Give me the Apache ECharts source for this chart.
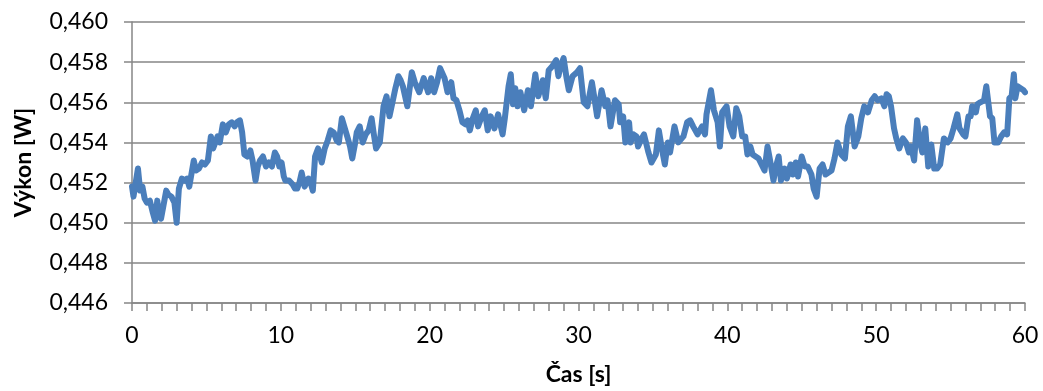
<!DOCTYPE html>
<html>
<head>
<meta charset="utf-8">
<script src="https://cdn.jsdelivr.net/npm/echarts@6/dist/echarts.min.js"></script>
<style>
  html, body { margin: 0; padding: 0; background: #fff; }
  #chart { width: 1043px; height: 391px; }
</style>
</head>
<body>
<div id="chart"></div>
<script>
// Measured power over time: time stamps [s] and power [W]
var times = [
  0.0, 0.1, 0.25, 0.4, 0.55, 0.7, 0.85, 1.0, 1.2, 1.4, 1.55, 1.7, 1.8, 1.95, 2.1, 2.3, 2.45, 2.65, 2.85, 3.0,
  3.15, 3.35, 3.55, 3.7, 3.85, 4.15, 4.3, 4.5, 4.7, 4.9, 5.1, 5.3, 5.45, 5.6, 5.75, 5.9, 6.1, 6.3, 6.5, 6.7,
  6.9, 7.05, 7.25, 7.4, 7.55, 7.75, 7.95, 8.1, 8.3, 8.45, 8.6, 8.8, 9.0, 9.2, 9.4, 9.6, 9.75, 9.9, 10.05, 10.2,
  10.3, 10.55, 10.8, 10.95, 11.1, 11.25, 11.4, 11.6, 11.85, 12.0, 12.15, 12.3, 12.5, 12.75, 12.95, 13.15, 13.35, 13.55, 13.75, 13.9,
  14.1, 14.3, 14.5, 14.65, 14.8, 15.0, 15.1, 15.3, 15.5, 15.7, 15.9, 16.1, 16.25, 16.4, 16.65, 16.9, 17.1, 17.3, 17.5, 17.7,
  17.9, 18.05, 18.2, 18.5, 18.8, 19.0, 19.3, 19.6, 19.9, 20.1, 20.3, 20.5, 20.7, 21.0, 21.2, 21.45, 21.6, 21.8, 22.0, 22.2,
  22.4, 22.55, 22.7, 22.9, 23.1, 23.25, 23.5, 23.7, 23.9, 24.1, 24.35, 24.6, 24.9, 25.05, 25.3, 25.45, 25.6, 25.75, 25.9, 26.1,
  26.35, 26.6, 26.8, 27.1, 27.3, 27.6, 27.8, 28.0, 28.25, 28.5, 28.65, 28.8, 29.0, 29.2, 29.35, 29.6, 29.9, 30.1, 30.35, 30.6,
  30.9, 31.05, 31.25, 31.55, 31.8, 31.95, 32.15, 32.45, 32.7, 32.8, 33.0, 33.15, 33.4, 33.5, 33.7, 33.9, 34.0, 34.25, 34.4, 34.7,
  34.9, 35.2, 35.4, 35.6, 35.8, 36.0, 36.15, 36.45, 36.7, 37.05, 37.3, 37.5, 37.7, 38.0, 38.3, 38.5, 38.6, 38.9, 39.1, 39.35,
  39.5, 39.65, 39.95, 40.15, 40.4, 40.6, 40.8, 41.0, 41.2, 41.35, 41.55, 41.7, 42.1, 42.3, 42.5, 42.7, 42.85, 43.1, 43.3, 43.45,
  43.6, 43.85, 44.0, 44.25, 44.4, 44.6, 44.75, 45.0, 45.2, 45.4, 45.65, 45.8, 46.0, 46.2, 46.4, 46.6, 46.8, 47.0, 47.2, 47.4,
  47.65, 47.9, 48.1, 48.3, 48.55, 48.8, 49.0, 49.2, 49.45, 49.7, 49.9, 50.1, 50.35, 50.55, 50.7, 50.85, 51.0, 51.2, 51.35, 51.55,
  51.8, 52.0, 52.2, 52.35, 52.55, 52.75, 52.95, 53.1, 53.3, 53.5, 53.7, 53.9, 54.1, 54.3, 54.55, 54.8, 55.0, 55.2, 55.45, 55.6,
  55.85, 56.0, 56.2, 56.35, 56.45, 56.7, 56.8, 57.0, 57.25, 57.4, 57.65, 57.8, 57.95, 58.2, 58.4, 58.6, 58.8, 58.95, 59.1, 59.25,
  59.35, 59.5, 59.7, 59.9, 60.0
];
var power = [
  0.4518, 0.4513, 0.4520, 0.4527, 0.4516, 0.4518, 0.4512, 0.4510, 0.4511, 0.4505, 0.4501, 0.4511, 0.4504, 0.4502, 0.4508, 0.4516, 0.4514, 0.4513, 0.4510, 0.4500,
  0.4517, 0.4522, 0.4521, 0.4522, 0.4518, 0.4531, 0.4526, 0.4527, 0.4530, 0.4529, 0.4531, 0.4543, 0.4537, 0.4540, 0.4543, 0.4540, 0.4549, 0.4545, 0.4549, 0.4550,
  0.4548, 0.4550, 0.4551, 0.4545, 0.4534, 0.4533, 0.4536, 0.4531, 0.4521, 0.4528, 0.4531, 0.4533, 0.4528, 0.4530, 0.4528, 0.4535, 0.4533, 0.4528, 0.4530, 0.4523,
  0.4521, 0.4521, 0.4519, 0.4517, 0.4517, 0.4520, 0.4525, 0.4518, 0.4522, 0.4520, 0.4516, 0.4533, 0.4537, 0.4530, 0.4537, 0.4541, 0.4546, 0.4545, 0.4541, 0.4540,
  0.4552, 0.4547, 0.4542, 0.4538, 0.4532, 0.4540, 0.4545, 0.4548, 0.4540, 0.4544, 0.4546, 0.4552, 0.4544, 0.4537, 0.4540, 0.4558, 0.4563, 0.4553, 0.4560, 0.4567,
  0.4573, 0.4571, 0.4568, 0.4558, 0.4575, 0.4570, 0.4565, 0.4572, 0.4565, 0.4572, 0.4565, 0.4570, 0.4577, 0.4572, 0.4565, 0.4570, 0.4562, 0.4561, 0.4556, 0.4550,
  0.4549, 0.4551, 0.4546, 0.4552, 0.4556, 0.4548, 0.4553, 0.4556, 0.4546, 0.4553, 0.4547, 0.4554, 0.4544, 0.4552, 0.4568, 0.4574, 0.4559, 0.4567, 0.4558, 0.4565,
  0.4556, 0.4566, 0.4558, 0.4574, 0.4563, 0.4571, 0.4562, 0.4576, 0.4578, 0.4581, 0.4573, 0.4578, 0.4582, 0.4572, 0.4566, 0.4573, 0.4575, 0.4577, 0.4560, 0.4558,
  0.4570, 0.4563, 0.4553, 0.4566, 0.4558, 0.4561, 0.4548, 0.4561, 0.4559, 0.4550, 0.4553, 0.4540, 0.4550, 0.4540, 0.4544, 0.4543, 0.4538, 0.4542, 0.4544, 0.4535,
  0.4530, 0.4534, 0.4546, 0.4537, 0.4529, 0.4540, 0.4535, 0.4548, 0.4540, 0.4543, 0.4550, 0.4551, 0.4548, 0.4544, 0.4548, 0.4544, 0.4554, 0.4566, 0.4556, 0.4550,
  0.4538, 0.4555, 0.4558, 0.4548, 0.4543, 0.4557, 0.4553, 0.4543, 0.4543, 0.4534, 0.4538, 0.4534, 0.4532, 0.4529, 0.4526, 0.4538, 0.4532, 0.4521, 0.4529, 0.4533,
  0.4521, 0.4527, 0.4522, 0.4529, 0.4524, 0.4530, 0.4523, 0.4533, 0.4528, 0.4528, 0.4524, 0.4517, 0.4513, 0.4527, 0.4529, 0.4524, 0.4525, 0.4526, 0.4532, 0.4540,
  0.4534, 0.4532, 0.4548, 0.4553, 0.4538, 0.4543, 0.4552, 0.4558, 0.4555, 0.4561, 0.4563, 0.4561, 0.4562, 0.4558, 0.4564, 0.4563, 0.4558, 0.4547, 0.4542, 0.4537,
  0.4542, 0.4540, 0.4535, 0.4538, 0.4531, 0.4551, 0.4540, 0.4535, 0.4547, 0.4528, 0.4539, 0.4527, 0.4527, 0.4529, 0.4542, 0.4540, 0.4542, 0.4547, 0.4554, 0.4547,
  0.4544, 0.4543, 0.4553, 0.4553, 0.4558, 0.4555, 0.4559, 0.4560, 0.4561, 0.4568, 0.4553, 0.4552, 0.4540, 0.4540, 0.4543, 0.4545, 0.4544, 0.4562, 0.4563, 0.4574,
  0.4562, 0.4568, 0.4567, 0.4566, 0.4565
];

var xTitle = 'Čas [s]';
var yTitle = 'Výkon [W]';

var seriesData = times.map(function (t, i) { return [t, power[i]]; });

var axisGray = '#868686';
var fontFamily = 'Lato, "Open Sans", sans-serif';

var chart = echarts.init(document.getElementById('chart'), null, { renderer: 'canvas' });
chart.setOption({
  animation: false,
  backgroundColor: '#ffffff',
  grid: { left: 132, right: 18, top: 22, bottom: 87, containLabel: false },
  xAxis: {
    type: 'value',
    min: 0,
    max: 60,
    interval: 10,
    name: xTitle,
    nameLocation: 'middle',
    nameGap: 60,
    nameTextStyle: { fontFamily: fontFamily, fontSize: 23, fontWeight: 'bold', color: '#000' },
    axisLine: { show: true, lineStyle: { color: axisGray, width: 1.5 } },
    axisTick: { show: true, length: 8, inside: false, lineStyle: { color: axisGray, width: 1.5 } },
    minorTick: { show: true, splitNumber: 10, length: 8, lineStyle: { color: axisGray, width: 1.5 } },
    splitLine: { show: false },
    axisLabel: { fontFamily: fontFamily, fontSize: 23, color: '#000', margin: 21 }
  },
  yAxis: {
    type: 'value',
    min: 0.446,
    max: 0.460,
    interval: 0.002,
    name: yTitle,
    nameLocation: 'middle',
    nameRotate: 90,
    nameGap: 97,
    nameTextStyle: { fontFamily: fontFamily, fontSize: 23, fontWeight: 'bold', color: '#000' },
    axisLine: { show: true, lineStyle: { color: axisGray, width: 1.5 } },
    axisTick: { show: true, length: 8, inside: false, lineStyle: { color: axisGray, width: 1.5 } },
    splitLine: { show: true, lineStyle: { color: axisGray, width: 1.5 } },
    axisLabel: {
      fontFamily: fontFamily, fontSize: 23, color: '#000', margin: 24,
      formatter: function (v) { return v.toFixed(3).replace('.', ','); }
    }
  },
  series: [{
    type: 'line',
    data: seriesData,
    showSymbol: false,
    smooth: false,
    lineStyle: { color: '#4A7EBB', width: 6, cap: 'round', join: 'round' }
  }]
});
</script>
</body>
</html>
